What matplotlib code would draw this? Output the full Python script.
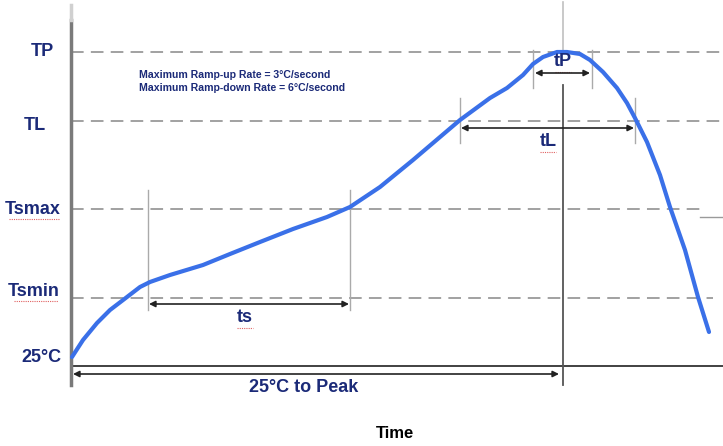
import numpy as np
import matplotlib.pyplot as plt

# Reflow profile (x = time units, y = temperature units, y grows downward)
curve_x = [72, 83, 97, 110, 127, 140, 150, 170, 203, 230, 260, 293, 327, 350, 380, 413,
           460, 490, 507, 523, 533, 543, 557, 567, 580, 590, 603, 617, 627, 635, 647,
           660, 670, 685, 698, 709]
curve_y = [357, 340, 323, 310, 297, 287, 282, 275, 265, 254, 242, 229, 217, 207, 187, 160,
           120, 98, 88, 75, 64, 57, 52, 52, 54, 60, 72, 88, 103, 118, 142,
           175, 207, 250, 297, 332]

level_names = ['TP', 'TL', 'Tsmax', 'Tsmin', '25°C']
level_y = [52, 121, 209, 298, 366]
level_label_x = [54, 46, 61, 60, 61]
level_label_y = [52, 125, 209, 291, 357]
level_end = [723, 723, 705, 713, 723]

ts_span = (148, 350)
tl_span = (460, 635)
tp_span = (533, 592)
peak_x = 563
axis_x = 71

navy = '#1b2a78'
blue = '#3a70e8'
gray = '#9a9a9a'
dark = '#333333'
squiggle = '#e06060'

fig = plt.figure(figsize=(7.23, 4.46), dpi=100)
ax = fig.add_axes([0, 0, 1, 1])
ax.set_xlim(0, 723)
ax.set_ylim(446, 0)
ax.axis('off')

font = 'Liberation Sans'

# horizontal reference lines and their labels
for name, y, lx, ly, xe in zip(level_names, level_y, level_label_x, level_label_y, level_end):
    if name == '25°C':
        ax.plot([axis_x, xe], [y, y], color=dark, lw=1.3)
    else:
        ax.plot([axis_x, xe], [y, y], color=gray, lw=1.3, dashes=(7, 4))
    ax.text(lx, ly, name, ha='right', va='center', color=navy,
            fontsize=13, fontweight='bold', family=font)
    if name in ('Tsmax', 'Tsmin'):
        ax.plot([lx - 52 + (name == 'Tsmin') * 6, lx - 2], [ly + 10, ly + 10],
                color=squiggle, lw=0.8, dashes=(1, 1))

ax.plot([700, 723], [217, 217], color=gray, lw=1)

# vertical axis
ax.plot([axis_x, axis_x], [385, 20], color='#7a7a7a', lw=2.5)
ax.plot([axis_x, axis_x], [20, 5], color='#d0d0d0', lw=2.5)

# peak line
ax.plot([peak_x, peak_x], [385, 85], color='#555555', lw=1.3)
ax.plot([peak_x, peak_x], [50, 2], color='#c0c0c0', lw=1.2)

# interval marker lines
for x0, x1, top, bot in [(ts_span[0], ts_span[1], 190, 310),
                          (tl_span[0], tl_span[1], 98, 143),
                          (tp_span[0], tp_span[1], 50, 88)]:
    ax.plot([x0, x0], [top, bot], color='#aaaaaa', lw=1)
    ax.plot([x1, x1], [top, bot], color='#aaaaaa', lw=1)


def span_arrow(x0, x1, y):
    ax.annotate('', xy=(x1, y), xytext=(x0, y),
                arrowprops=dict(arrowstyle='<|-|>', color='#222222', lw=1.2,
                                mutation_scale=9, shrinkA=0, shrinkB=0))


span_arrow(ts_span[0] + 1, ts_span[1] - 1, 304)
span_arrow(tl_span[0] + 1, tl_span[1] - 1, 128)
span_arrow(tp_span[0] + 2, tp_span[1] - 2, 73)
span_arrow(axis_x + 2, peak_x - 4, 374)

# profile curve
ax.plot(curve_x, curve_y, color=blue, lw=3, solid_capstyle='round', solid_joinstyle='round')

# interval labels
labels = [('ts', 245, 318), ('tL', 548, 142), ('tP', 563, 62)]
for txt, x, y in labels:
    ax.text(x, y, txt, ha='center', va='center', color=navy, fontsize=13,
            fontweight='bold', family=font)
    ax.plot([x - 8, x + 8], [y + 10, y + 10], color=squiggle, lw=0.8, dashes=(1, 1))

ax.text(304, 388, '25°C to Peak', ha='center', va='center', color=navy,
        fontsize=13, fontweight='bold', family=font)
ax.text(395, 433, 'Time', ha='center', va='center', color='black',
        fontsize=12, fontweight='bold', family=font)

ax.text(139, 75, 'Maximum Ramp-up Rate = 3°C/second', ha='left', va='center',
        color=navy, fontsize=7.6, fontweight='bold', family=font)
ax.text(139, 88, 'Maximum Ramp-down Rate = 6°C/second', ha='left', va='center',
        color=navy, fontsize=7.6, fontweight='bold', family=font)

fig.savefig('out.png', dpi=100)
